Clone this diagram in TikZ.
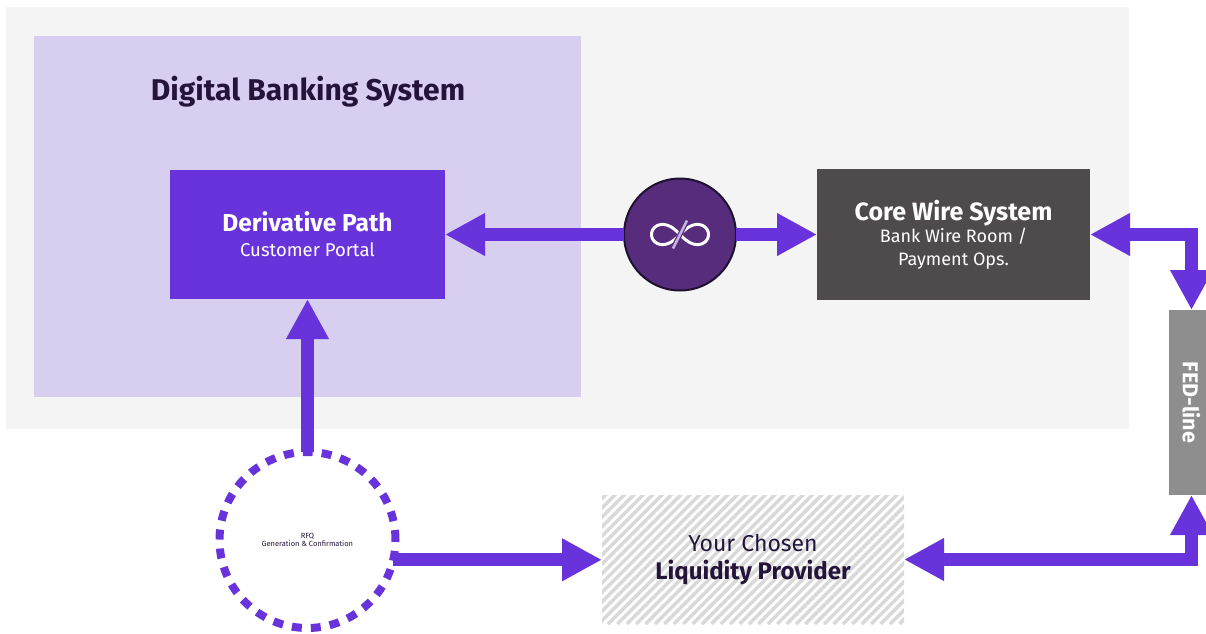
\documentclass[tikz,border=0pt]{standalone}
\usepackage{fontspec}
\setmainfont{Fira Sans}
\usetikzlibrary{arrows.meta, positioning}

\definecolor{pagegray}{HTML}{F4F4F4}
\definecolor{lavender}{HTML}{D8CEEF}
\definecolor{violet}{HTML}{6933DC}
\definecolor{hubfill}{HTML}{582C7C}
\definecolor{hubline}{HTML}{1E1030}
\definecolor{wiregray}{HTML}{4F4B4C}
\definecolor{fedgray}{HTML}{8E8E8E}
\definecolor{ink}{HTML}{24143A}
\definecolor{hatch}{HTML}{D9D9D9}
\definecolor{slash}{HTML}{C3B2DE}

\begin{document}
\begin{tikzpicture}[x=1pt, y=-1pt, on grid, outer sep=0pt,
    >={Triangle[length=40pt, width=40pt]},
    flow/.style={draw=violet, line width=13pt, line join=miter},
    panel/.style={rectangle, fill=lavender, minimum width=547pt, minimum height=361pt},
    portal/.style={rectangle, fill=violet, text=white, align=center,
      minimum width=275pt, minimum height=129pt, font=\fontsize{18.5}{25}\selectfont},
    wire/.style={rectangle, fill=wiregray, text=white, align=center,
      minimum width=273pt, minimum height=131pt, font=\fontsize{18}{22.5}\selectfont},
    fed/.style={rectangle, fill=fedgray, text=white, rotate=-90,
      minimum width=185pt, minimum height=45pt, font=\bfseries\fontsize{21.5}{24}\selectfont},
    hub/.style={circle, fill=hubfill, draw=hubline, line width=2pt, minimum size=112pt},
    rfq/.style={circle, draw=violet, line width=8pt, dash pattern=on 10pt off 9pt,
      minimum size=176pt, text=ink, align=center, font=\fontsize{7.5}{8}\selectfont},
    provider/.style={rectangle, text=ink, align=center,
      minimum width=302pt, minimum height=129pt, font=\fontsize{23}{28}\selectfont,
      path picture={
        \foreach \k in {-135,-125.6,...,310}
          \draw[hatch, line width=3.5pt]
            ([xshift=\k pt]path picture bounding box.south west) -- ++(140,-140);
      }}]
  \useasboundingbox (0,0) rectangle (1206,633);
  \fill[pagegray] (6,7) rectangle (1129,429);

  \node[panel] (dbs) at (307.5,216.5) {};
  \node[text=ink, font=\bfseries\fontsize{30}{34}\selectfont] (title) at (308,92) {Digital Banking System};
  \node[portal] (dp) at (307.5,234.5)
    {{\bfseries\fontsize{24.5}{25}\selectfont Derivative Path}\\Customer Portal};
  \node[hub] (hub) [right=372.5pt of dp] {};
  \node[wire] (cws) [right=273.5pt of hub]
    {{\bfseries\fontsize{25}{22.5}\selectfont Core Wire System}\\Bank Wire Room /\\Payment Ops.};
  \node[fed] (fed) at (1191.5,402.5) {FED-line};
  \node[rfq] (rfq) at (307.5,540) {RFQ\\Generation \& Confirmation};
  \node[provider] (lp) at (753,559.5) {Your Chosen\\{\bfseries\fontsize{24}{28}\selectfont Liquidity Provider}};

  % infinity mark in the hub
  \begin{scope}[shift={(hub.center)}]
    \draw[white, line width=3pt] plot[domain=0:360, samples=120, smooth, variable=\t]
      ({28.5*cos(\t)/(1+sin(\t)^2)}, {28.5*sin(\t)*cos(\t)/(1+sin(\t)^2)});
    \draw[hubfill, line width=5pt] (6,-12) -- (-6,12);
    \draw[slash, line width=2.5pt] (7,-14) -- (-7,14);
  \end{scope}

  \draw[flow, ->] (hub) -- (hub -| dp.east);
  \draw[flow, ->] (hub) -- (hub -| cws.west);
  \draw[flow, ->] (rfq) -- (rfq |- dp.south);
  \draw[flow, ->] (rfq.-13) -- (rfq.-13 -| lp.west);
  \draw[flow, <->] (cws.east) -| (fed.west);
  \draw[flow, <->] (lp.east) -| (fed.east);
\end{tikzpicture}
\end{document}
